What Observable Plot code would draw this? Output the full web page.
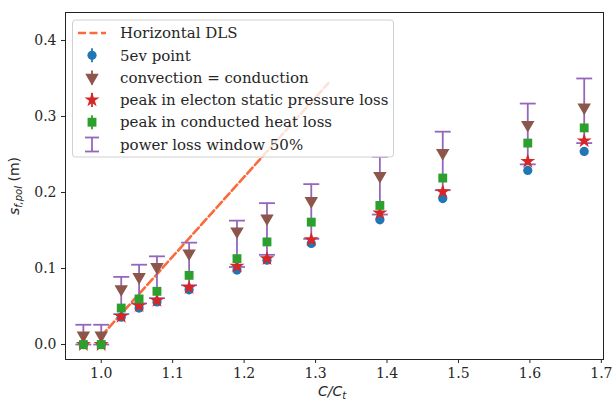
<!DOCTYPE html>
<html>
<head>
<meta charset="utf-8">
<script src="https://cdn.jsdelivr.net/npm/d3@7"></script>
<script src="https://cdn.jsdelivr.net/npm/@observablehq/plot@0.6"></script>
<style>
  html, body { margin: 0; padding: 0; background: #fff; }
  #chart svg { display: block; }
</style>
</head>
<body>
<div id="chart"></div>
<script>
// ---- data ----
const ratio = [0.975, 1.0, 1.028, 1.053, 1.078, 1.123, 1.19, 1.232, 1.294, 1.39, 1.478, 1.597, 1.676];
const ev5Point = [0.0, 0.0, 0.036, 0.048, 0.056, 0.072, 0.098, 0.111, 0.133, 0.164, 0.192, 0.229, 0.254];
const convEqCond = [0.012, 0.012, 0.073, 0.089, 0.102, 0.120, 0.149, 0.166, 0.189, 0.222, 0.252, 0.289, 0.312];
const peakPressure = [0.0, 0.0, 0.037, 0.051, 0.058, 0.075, 0.103, 0.113, 0.138, 0.173, 0.201, 0.241, 0.268];
const peakHeat = [0.0, 0.0, 0.048, 0.060, 0.070, 0.091, 0.113, 0.135, 0.161, 0.183, 0.219, 0.265, 0.285];
const windowLo = [0.0, 0.0, 0.040, 0.054, 0.061, 0.078, 0.102, 0.118, 0.139, 0.171, 0.203, 0.237, 0.265];
const windowHi = [0.026, 0.026, 0.089, 0.105, 0.116, 0.134, 0.163, 0.186, 0.211, 0.247, 0.280, 0.317, 0.350];
const dlsX = [1.0, 1.318];
const dlsY = [0.011, 0.344];
const xTicks = [1.0, 1.1, 1.2, 1.3, 1.4, 1.5, 1.6, 1.7];
const yTicks = [0.0, 0.1, 0.2, 0.3, 0.4];
const legendLabels = ["Horizontal DLS", "5ev point", "convection = conduction",
  "peak in electon static pressure loss", "peak in conducted heat loss", "power loss window 50%"];

const C = {blue: "#1f77b4", brown: "#8c564b", red: "#d62728", green: "#2ca02c", purple: "#9467bd", dls: "#fb6a3c"};

const rows = ratio.map((x, i) => ({x, ev5: ev5Point[i], conv: convEqCond[i], pres: peakPressure[i], heat: peakHeat[i], lo: windowLo[i], hi: windowHi[i]}));
const dls = dlsX.map((x, i) => ({x, y: dlsY[i]}));

// custom cap symbol (horizontal line)
const capSymbol = {draw(ctx, size) { const w = Math.sqrt(size); ctx.moveTo(-w, 0); ctx.lineTo(w, 0); }};

const font = "DejaVu Serif";
const R = {circle: 4.6, tri: 5.0, star: 4.7, square: 5.0};
const plot = Plot.plot({
  width: 615, height: 406,
  marginLeft: 65, marginRight: 12, marginTop: 12, marginBottom: 47,
  style: {fontFamily: font, fontSize: "14px", color: "#262626", background: "#fff"},
  x: {domain: [0.95, 1.703]},
  y: {domain: [-0.0197, 0.4368]},
  marks: [
    Plot.line(dls, {x: "x", y: "y", stroke: C.dls, strokeWidth: 2.6, strokeDasharray: "8,3.5"}),
    Plot.ruleX(rows, {x: "x", y1: "lo", y2: "hi", stroke: C.purple, strokeWidth: 1.8}),
    Plot.dot(rows, {x: "x", y: "lo", symbol: capSymbol, r: 4.5, stroke: C.purple, strokeWidth: 1.8}),
    Plot.dot(rows, {x: "x", y: "hi", symbol: capSymbol, r: 4.5, stroke: C.purple, strokeWidth: 1.8}),
    Plot.dot(rows, {x: "x", y: "ev5", symbol: "circle", r: R.circle, fill: C.blue}),
    Plot.dot(rows, {x: "x", y: "conv", symbol: "triangle", rotate: 180, r: R.tri, fill: C.brown}),
    Plot.dot(rows, {x: "x", y: "pres", symbol: "star", r: R.star, fill: C.red}),
    Plot.dot(rows, {x: "x", y: "heat", symbol: "square", r: R.square, fill: C.green}),
    Plot.frame({stroke: "#222", strokeWidth: 1}),
    Plot.axisX({ticks: xTicks, tickFormat: d3.format(".1f"), tickSize: 4, tickPadding: 5, label: null}),
    Plot.axisY({ticks: yTicks, tickFormat: d3.format(".1f"), tickSize: 4, tickPadding: 5, label: null})
  ]
});
document.getElementById("chart").appendChild(plot);

// ---- axis titles ----
const svg = d3.select(plot);
const xl = svg.append("text").attr("x", 332).attr("y", 396).attr("text-anchor", "middle")
  .attr("font-family", "DejaVu Sans").attr("font-size", 14).attr("fill", "#262626").attr("font-style", "italic");
xl.append("tspan").text("C/C");
xl.append("tspan").attr("font-size", 10).attr("dy", 3).text("t");

const yl = svg.append("text").attr("transform", "translate(19,186) rotate(-90)").attr("text-anchor", "middle")
  .attr("font-family", "DejaVu Sans").attr("font-size", 14).attr("fill", "#262626");
yl.append("tspan").attr("font-style", "italic").text("s");
yl.append("tspan").attr("font-style", "italic").attr("font-size", 10).attr("dy", 3).text("f,pol");
yl.append("tspan").attr("dy", -3).text(" (m)");

// ---- legend ----
const lg = svg.append("g").attr("text-anchor", "start");
lg.append("rect").attr("x", 72.5).attr("y", 20).attr("width", 321).attr("height", 137).attr("rx", 3)
  .attr("fill", "#fff").attr("fill-opacity", 0.8).attr("stroke", "#d0d0d0").attr("stroke-width", 1);
const ly0 = 33, ldy = 22.3, hx = 92, tx = 120;
const sym = (type, r) => d3.symbol(type, Math.PI * r * r)();
legendLabels.forEach((label, i) => {
  const y = ly0 + i * ldy;
  lg.append("text").attr("x", tx).attr("y", y).attr("dy", "0.35em").attr("font-family", font)
    .attr("text-anchor", "start").attr("font-size", 15).attr("fill", "#262626").text(label);
});
// handles
lg.append("line").attr("x1", 78).attr("x2", 106).attr("y1", ly0).attr("y2", ly0)
  .attr("stroke", C.dls).attr("stroke-width", 2.6).attr("stroke-dasharray", "8,3.5");
const markerHandles = [
  {type: d3.symbolCircle, r: R.circle, color: C.blue, rot: 0},
  {type: d3.symbolTriangle, r: R.tri, color: C.brown, rot: 180},
  {type: d3.symbolStar, r: R.star, color: C.red, rot: 0},
  {type: d3.symbolSquare, r: R.square, color: C.green, rot: 0}
];
markerHandles.forEach((m, i) => {
  const y = ly0 + (i + 1) * ldy;
  lg.append("line").attr("x1", hx).attr("x2", hx).attr("y1", y - 7).attr("y2", y + 7)
    .attr("stroke", m.color).attr("stroke-width", 1.8);
  lg.append("path").attr("d", sym(m.type, m.r)).attr("fill", m.color)
    .attr("transform", `translate(${hx},${y}) rotate(${m.rot})`);
});
{
  const y = ly0 + 5 * ldy;
  const g = lg.append("g").attr("stroke", C.purple).attr("stroke-width", 1.8);
  g.append("line").attr("x1", hx).attr("x2", hx).attr("y1", y - 7).attr("y2", y + 7);
  g.append("line").attr("x1", hx - 7).attr("x2", hx + 7).attr("y1", y - 7).attr("y2", y - 7);
  g.append("line").attr("x1", hx - 7).attr("x2", hx + 7).attr("y1", y + 7).attr("y2", y + 7);
}
</script>
</body>
</html>
